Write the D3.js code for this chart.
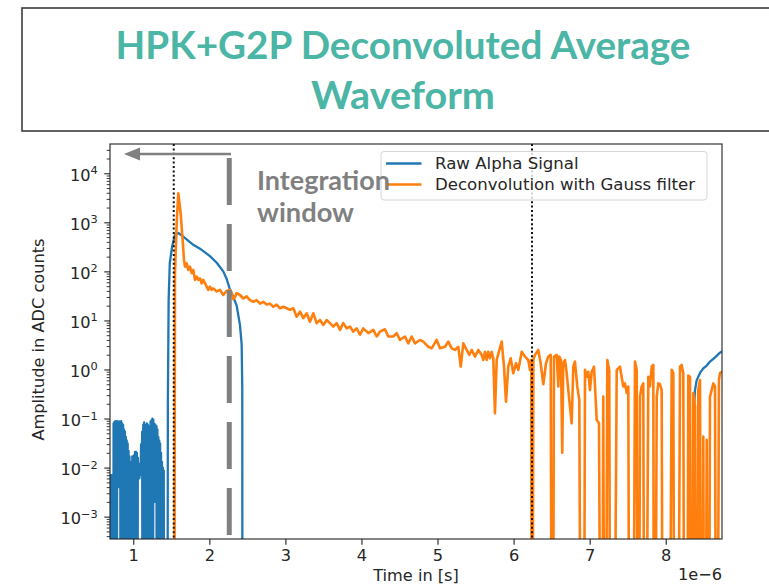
<!DOCTYPE html>
<html>
<head>
<meta charset="utf-8">
<script src="https://cdn.jsdelivr.net/npm/d3@7"></script>
<style>
  body { margin: 0; background: #fff; }
  svg { display: block; }
</style>
</head>
<body>
<svg id="chart" width="769" height="586"></svg>
<script>
// ---- data -------------------------------------------------------------
const titleLines = ["HPK+G2P Deconvoluted Average", "Waveform"];
const annotationLines = ["Integration", "window"];
const seriesNames = ["Raw Alpha Signal", "Deconvolution with Gauss filter"];
const xLabel = "Time in [s]";
const xOffsetLabel = "1e\u22126";
const yLabel = "Amplitude in ADC counts";

const xTicks = [1, 2, 3, 4, 5, 6, 7, 8];          // in units of 1e-6 s
const yTickExponents = [-3, -2, -1, 0, 1, 2, 3, 4];
const xDomain = [0.694, 8.74];
const yDomain = [3.5e-4, 3.95e4];

const integrationStart = 1.532;   // dotted markers
const integrationEnd = 6.242;
const windowMarker = 2.262;       // dashed grey marker

// Raw alpha signal, [time (us), ADC counts]; non-positive samples sit below the log axis
const rawSignal = [
  [0.694,0.006],[0.700,0],[0.706,0.007],[0.712,0],[0.718,0.007],[0.724,0],[0.730,0.006],[0.736,0],
  [0.741,0.080],[0.747,0],[0.752,0.085],[0.758,0],[0.764,0.088],[0.770,0],[0.776,0.086],[0.782,0],
  [0.788,0.088],[0.795,0.005],[0.801,0.084],[0.808,0.004],[0.815,0.087],[0.822,0.005],[0.829,0.086],
  [0.835,0],[0.841,0.088],[0.847,0],[0.853,0.080],[0.859,0],[0.866,0.075],[0.872,0],[0.878,0.060],
  [0.884,0],[0.890,0.054],[0.896,0],[0.902,0.042],[0.908,0],[0.914,0.036],[0.920,0],[0.926,0.031],
  [0.932,0],[0.938,0.022],[0.944,0],[0.950,0.017],[0.956,0],[0.962,0.013],[0.968,0],[0.975,0.013],
  [0.981,0],[0.987,0.017],[0.993,0],[0.999,0.016],[1.005,0],[1.011,0.018],[1.017,0],[1.023,0.021],
  [1.029,0],[1.035,0.021],[1.041,0],[1.047,0.020],[1.053,0],[1.060,0.016],[1.066,0.007],[1.073,0.010],
  [1.080,0.006],[1.088,0.012],[1.095,0.007],[1.103,0.030],[1.110,0.007],[1.117,0.054],[1.124,0],
  [1.131,0.075],[1.137,0],[1.143,0.083],[1.149,0],[1.155,0.074],[1.161,0],[1.167,0.066],[1.173,0],
  [1.179,0.080],[1.185,0],[1.191,0.075],[1.197,0.003],[1.203,0.066],[1.209,0.003],[1.215,0.070],
  [1.221,0],[1.227,0.087],[1.233,0],[1.239,0.092],[1.245,0],[1.251,0.100],[1.257,0],[1.263,0.095],
  [1.270,0.002],[1.277,0.079],[1.284,0.002],[1.291,0.075],[1.298,0.002],[1.305,0.070],[1.311,0],
  [1.317,0.060],[1.323,0],[1.329,0.042],[1.335,0],[1.341,0.036],[1.347,0],[1.353,0.031],[1.359,0],
  [1.365,0.020],[1.371,0],[1.377,0.013],[1.383,0],[1.389,0.010],[1.395,0],[1.401,0.0087],[1.407,0],
  [1.415,0],[1.430,0],[1.445,0],
  [1.455,0.24],[1.465,26],[1.480,148],[1.510,316],[1.548,550],[1.592,605],[1.657,513],[1.789,347],
  [1.877,290],[2.008,205],[2.097,150],[2.183,100],[2.228,70],[2.262,47],[2.315,30],[2.359,20],
  [2.380,13],[2.403,8],[2.425,3.2],[2.433,0.4],[2.437,0],
  [8.350,0],[8.358,0.003],[8.363,0.05],[8.375,0.2],[8.385,0.38],[8.407,0.6],[8.451,0.85],
  [8.494,1.05],[8.539,1.2],[8.582,1.45],[8.626,1.65],[8.670,1.9],[8.713,2.2],[8.745,2.35]
];

// Deconvolution with Gauss filter, [time (us), ADC counts]
const deconvolved = [
  [1.500,0],[1.535,0],[1.548,90],[1.571,1000],[1.592,3900],[1.623,1530],[1.649,437],[1.667,171],
  [1.680,125],[1.702,146],[1.723,107],[1.745,125],[1.768,92],[1.789,107],[1.811,67],[1.834,78],
  [1.855,67],[1.877,72],[1.899,57],[1.920,67],[1.965,49],[1.986,42],[2.008,49],[2.031,42],[2.052,45],
  [2.097,39],[2.140,42],[2.183,33],[2.228,40],[2.271,42],[2.294,36],[2.315,27],[2.337,30],[2.359,36],
  [2.403,33],[2.446,28],[2.491,31],[2.534,26],[2.578,24],[2.622,26],[2.666,22],[2.709,24],[2.754,21],
  [2.797,22],[2.841,19],[2.885,21],[2.929,17.7],[2.972,19],[3.017,17.7],[3.060,16.4],[3.104,17.7],
  [3.148,11.9],[3.192,15.1],[3.235,11.1],[3.280,14],[3.323,9.4],[3.367,14],[3.411,8.8],[3.455,10.2],
  [3.498,8.1],[3.543,10.2],[3.586,8.8],[3.630,7.5],[3.674,8.8],[3.718,6.4],[3.761,8.8],[3.806,6.9],
  [3.849,7.5],[3.892,5.9],[3.937,6.9],[3.981,5.1],[4.024,6.9],[4.090,5.5],[4.155,6.4],[4.200,4.7],
  [4.243,5.9],[4.309,6.6],[4.353,4.7],[4.418,4.7],[4.463,5.5],[4.506,4.0],[4.572,4.7],[4.616,3.4],
  [4.660,4.7],[4.704,3.4],[4.769,4.0],[4.813,3.7],[4.879,2.9],[4.923,2.7],[4.989,4.0],[5.032,2.7],
  [5.098,2.9],[5.141,3.7],[5.186,2.7],[5.230,2.5],[5.273,2.9],[5.305,1.14],[5.339,3.4],[5.383,2.5],
  [5.418,1.98],[5.449,2.5],[5.493,1.83],[5.536,2.5],[5.581,1.98],[5.602,1.56],[5.624,2.3],[5.646,1.56],
  [5.667,2.3],[5.690,1.69],[5.712,2.3],[5.733,1.69],[5.755,0.128],[5.778,1.56],[5.799,2.1],[5.844,3.7],
  [5.874,1.14],[5.900,0.22],[5.930,1.14],[5.962,1.69],[5.996,0.84],[6.032,1.34],[6.062,0.98],
  [6.107,2.3],[6.150,1.83],[6.193,1.56],[6.216,0.98],[6.232,1.56],[6.242,0],[6.260,1.6],[6.281,1.98],
  [6.325,2.5],[6.356,1.34],[6.391,0.5],[6.426,1.34],[6.456,1.83],[6.488,1.98],[6.509,0],[6.531,1.83],
  [6.567,1.98],[6.588,0.45],[6.601,1.83],[6.623,1.56],[6.640,0.02],[6.653,1.34],[6.676,1.56],
  [6.698,0.84],[6.732,0.24],[6.764,0.08],[6.785,1.14],[6.807,1.45],[6.837,0.45],[6.864,0.24],
  [6.895,0],[6.916,0],[6.939,0.98],[6.961,0.71],[6.982,0.9],[7.004,0.38],[7.027,0.9],[7.057,1.14],
  [7.093,0.094],[7.123,0.08],[7.158,0],[7.179,0.28],[7.202,0],[7.232,1.56],[7.258,0.98],[7.277,0],
  [7.303,0],[7.356,0.98],[7.399,1.14],[7.442,0.45],[7.465,0.52],[7.487,0.33],[7.508,0.45],[7.530,0],
  [7.560,0],[7.596,1.45],[7.619,0.98],[7.640,0],[7.662,0.28],[7.684,0.45],[7.705,0.52],[7.728,0],
  [7.771,0.71],[7.793,0.45],[7.816,1.14],[7.837,1.24],[7.850,0],[7.882,0.28],[7.903,0.52],[7.925,0.5],
  [7.947,0.38],[7.968,0],[8.000,0],[8.034,0],[8.079,0.98],[8.100,0.84],[8.122,0],[8.150,0],[8.188,1.14],
  [8.210,1.24],[8.231,0.84],[8.253,0],[8.275,0],[8.297,0.75],[8.319,0.71],[8.342,0],[8.363,0.33],
  [8.385,0.175],[8.405,0],[8.428,0.38],[8.451,0.61],[8.470,0],[8.494,0.043],[8.515,0],[8.539,0.037],
  [8.560,0],[8.582,0.28],[8.604,0.38],[8.626,0.52],[8.648,0.45],[8.670,0],[8.700,0.61],[8.713,0.84],
  [8.745,0.9]
];

// ---- layout -----------------------------------------------------------
const plot = { left: 110, right: 722, top: 144, bottom: 539 };
const colors = { raw: "#1f77b4", deconv: "#ff7f0e", grey: "#808080", title: "#4bb5a6", text: "#262626" };
const tickFont = "'DejaVu Sans', sans-serif";
const fontSize = 16.2;

const svg = d3.select("#chart");

const x = d3.scaleLinear().domain(xDomain).range([plot.left, plot.right]);
const y = d3.scaleLog().domain(yDomain).range([plot.bottom, plot.top]);

// values at or below zero are sent far below the visible range (log axis)
const floorValue = 1e-12;
const line = d3.line()
  .x(d => x(d[0]))
  .y(d => y(d[1] > 0 ? d[1] : floorValue));

svg.append("defs").append("clipPath").attr("id", "plot-clip")
  .append("rect")
  .attr("x", plot.left).attr("y", plot.top)
  .attr("width", plot.right - plot.left).attr("height", plot.bottom - plot.top);

// ---- title box --------------------------------------------------------
svg.append("rect")
  .attr("x", 22).attr("y", 8).attr("width", 780).attr("height", 123)
  .attr("fill", "none").attr("stroke", "#3c3c3c").attr("stroke-width", 1.6);

const titleWidths = [575, 184];
const titleBaselines = [59, 109];
titleLines.forEach((txt, i) => {
  svg.append("text")
    .attr("x", 403).attr("y", titleBaselines[i])
    .attr("text-anchor", "middle")
    .attr("font-family", "Lato, 'Open Sans', sans-serif")
    .attr("font-weight", 700)
    .attr("font-size", 39)
    .attr("fill", colors.title)
    .attr("textLength", titleWidths[i]).attr("lengthAdjust", "spacingAndGlyphs")
    .text(txt);
});

// ---- data lines -------------------------------------------------------
const lines = svg.append("g").attr("clip-path", "url(#plot-clip)");
lines.append("path")
  .datum(rawSignal)
  .attr("d", line)
  .attr("fill", "none").attr("stroke", colors.raw)
  .attr("stroke-width", 2.3).attr("stroke-linejoin", "round");
lines.append("path")
  .datum(deconvolved)
  .attr("d", line)
  .attr("fill", "none").attr("stroke", colors.deconv)
  .attr("stroke-width", 2.6).attr("stroke-linejoin", "round");

// integration markers (dotted)
[integrationStart, integrationEnd].forEach(t => {
  lines.append("line")
    .attr("x1", x(t)).attr("x2", x(t))
    .attr("y1", plot.top).attr("y2", plot.bottom)
    .attr("stroke", "#111").attr("stroke-width", 2)
    .attr("stroke-dasharray", "2,2.4");
});

// ---- axes -------------------------------------------------------------
const xAxis = svg.append("g")
  .attr("transform", `translate(0,${plot.bottom})`)
  .call(d3.axisBottom(x).tickValues(xTicks).tickSize(5.7).tickPadding(4.5).tickFormat(d3.format("d")));
xAxis.select(".domain").remove();
xAxis.selectAll("line").attr("stroke", "#222").attr("stroke-width", 1.1);
xAxis.selectAll("text").attr("font-family", tickFont).attr("font-size", fontSize).attr("fill", colors.text);

const majorY = yTickExponents.map(e => Math.pow(10, e));
const minorY = [];
for (let e = -4; e <= 4; e++) {
  for (let k = 2; k <= 9; k++) {
    const v = k * Math.pow(10, e);
    if (v >= yDomain[0] && v <= yDomain[1]) minorY.push(v);
  }
}
const yMinor = svg.append("g")
  .attr("transform", `translate(${plot.left},0)`)
  .call(d3.axisLeft(y).tickValues(minorY).tickSize(3.3).tickFormat(""));
yMinor.select(".domain").remove();
yMinor.selectAll("line").attr("stroke", "#222").attr("stroke-width", 0.9);

const yAxis = svg.append("g")
  .attr("transform", `translate(${plot.left},0)`)
  .call(d3.axisLeft(y).tickValues(majorY).tickSize(5.7).tickPadding(6.5).tickFormat(""));
yAxis.select(".domain").remove();
yAxis.selectAll("line").attr("stroke", "#222").attr("stroke-width", 1.1);
yAxis.selectAll(".tick text").each(function (d) {
  const e = Math.round(Math.log10(d));
  const el = d3.select(this)
    .attr("font-family", tickFont).attr("font-size", fontSize).attr("fill", colors.text)
    .attr("dy", "0.45em");
  el.append("tspan").text("10");
  el.append("tspan").attr("font-size", fontSize * 0.7).attr("dy", "-0.6em")
    .text(e < 0 ? "\u2212" + Math.abs(e) : String(e));
});

// frame
svg.append("rect")
  .attr("x", plot.left).attr("y", plot.top)
  .attr("width", plot.right - plot.left).attr("height", plot.bottom - plot.top)
  .attr("fill", "none").attr("stroke", "#222").attr("stroke-width", 1.1);

// axis labels
svg.append("text")
  .attr("x", (plot.left + plot.right) / 2).attr("y", 581)
  .attr("text-anchor", "middle")
  .attr("font-family", tickFont).attr("font-size", fontSize).attr("fill", colors.text)
  .text(xLabel);
svg.append("text")
  .attr("x", plot.right).attr("y", 579.5)
  .attr("text-anchor", "end")
  .attr("font-family", tickFont).attr("font-size", fontSize).attr("fill", colors.text)
  .text(xOffsetLabel);
svg.append("text")
  .attr("transform", `translate(44,${(plot.top + plot.bottom) / 2 - 2}) rotate(-90)`)
  .attr("text-anchor", "middle")
  .attr("font-family", tickFont).attr("font-size", fontSize).attr("fill", colors.text)
  .text(yLabel);

// ---- legend -----------------------------------------------------------
const legend = svg.append("g");
legend.append("rect")
  .attr("x", 381).attr("y", 151.5).attr("width", 326).attr("height", 48.5).attr("rx", 3)
  .attr("fill", "#fff").attr("fill-opacity", 0.8)
  .attr("stroke", "#d6d6d6").attr("stroke-width", 1);
[colors.raw, colors.deconv].forEach((c, i) => {
  const ly = 163.5 + i * 21;
  legend.append("line")
    .attr("x1", 386).attr("x2", 421.5).attr("y1", ly).attr("y2", ly)
    .attr("stroke", c).attr("stroke-width", 2.3);
  legend.append("text")
    .attr("x", 435).attr("y", ly + 5.5)
    .attr("font-family", tickFont).attr("font-size", 16.6).attr("fill", colors.text)
    .text(seriesNames[i]);
});

// ---- integration window annotation ------------------------------------
svg.append("line")
  .attr("x1", x(windowMarker)).attr("x2", x(windowMarker))
  .attr("y1", 158).attr("y2", 536)
  .attr("stroke", colors.grey).attr("stroke-width", 5)
  .attr("stroke-dasharray", "47,19");

svg.append("line")
  .attr("x1", 231).attr("x2", 136).attr("y1", 154).attr("y2", 154)
  .attr("stroke", colors.grey).attr("stroke-width", 2.6);
svg.append("path")
  .attr("d", "M124,154 L140,147.5 L140,160.5 Z")
  .attr("fill", colors.grey);

const annWidths = [133, 97];
const annBaselines = [190, 221.5];
annotationLines.forEach((txt, i) => {
  svg.append("text")
    .attr("x", 257).attr("y", annBaselines[i])
    .attr("font-family", "Lato, 'Open Sans', sans-serif")
    .attr("font-weight", 700).attr("font-size", 26)
    .attr("fill", colors.grey)
    .attr("textLength", annWidths[i]).attr("lengthAdjust", "spacingAndGlyphs")
    .text(txt);
});
</script>
</body>
</html>
